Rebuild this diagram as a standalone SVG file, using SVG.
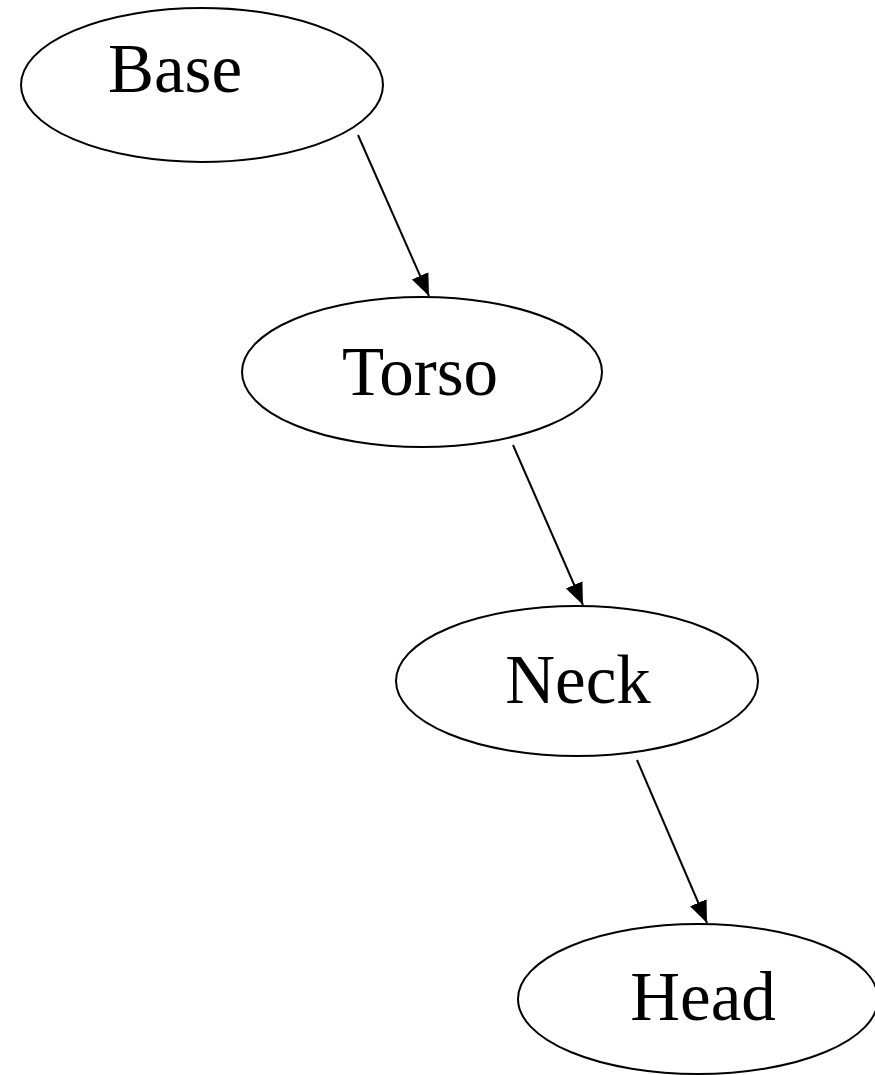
<svg xmlns="http://www.w3.org/2000/svg" width="875" height="1075" viewBox="0 0 875 1075">
<style>
.n ellipse{fill:#fff;stroke:#000;stroke-width:2}
.n text{font-family:"Liberation Serif",serif;font-size:69px;fill:#000;text-anchor:middle}
.e line{stroke:#000;stroke-width:2}
</style>
<defs>
<marker id="ah" markerUnits="userSpaceOnUse" markerWidth="24" markerHeight="24" viewBox="-22 -12 24 24" refX="0" refY="0" orient="auto">
<path d="M0,0 L-22,-9 L-22,9 Z" fill="#000"/>
</marker>
</defs>
<rect width="875" height="1075" fill="#fff"/>
<g id="connectors" class="e">
<line x1="358" y1="135" x2="429" y2="296" marker-end="url(#ah)"/>
<line x1="513" y1="445" x2="583" y2="605" marker-end="url(#ah)"/>
<line x1="637" y1="760" x2="707" y2="923" marker-end="url(#ah)"/>
</g>
<g id="base" class="n"><ellipse cx="202" cy="85" rx="181" ry="77"/><text x="175" y="92">Base</text></g>
<g id="torso" class="n"><ellipse cx="422" cy="372" rx="180" ry="75"/><text x="420" y="395">Torso</text></g>
<g id="neck" class="n"><ellipse cx="577" cy="681" rx="181" ry="75"/><text x="578" y="703">Neck</text></g>
<g id="head" class="n"><ellipse cx="698" cy="999" rx="180" ry="75"/><text x="703" y="1020">Head</text></g>
</svg>
